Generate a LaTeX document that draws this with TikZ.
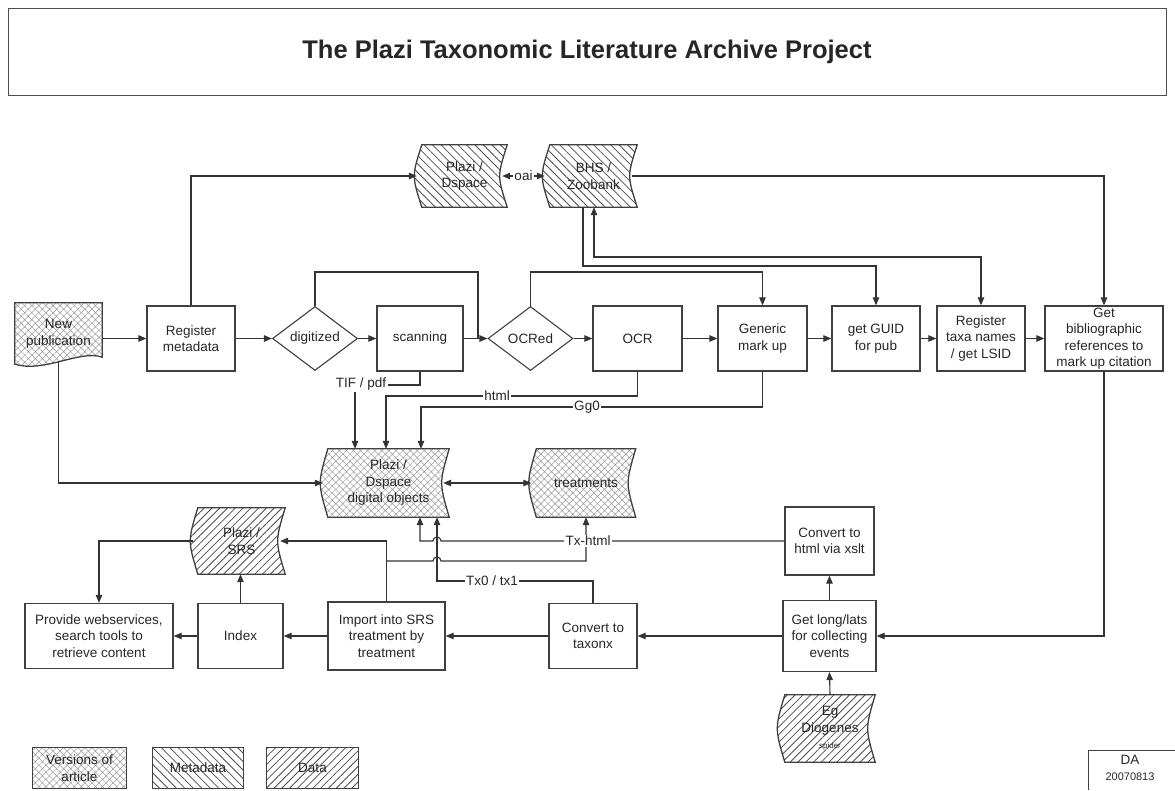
\documentclass[tikz,border=0pt]{standalone}
\usepackage{fontspec}
\setmainfont{Liberation Sans}
\usetikzlibrary{shapes.geometric,arrows.meta,patterns.meta,calc,backgrounds}
\newcommand\storedshape[2]{\path[#2] (#1.north west) .. controls ($(#1.north west)!.5!(#1.south west)+(-10pt,0)$) .. (#1.south west) -- (#1.south east) .. controls ($(#1.south east)!.5!(#1.north east)+(-10pt,0)$) .. (#1.north east) -- cycle;}
\begin{document}
\begin{tikzpicture}[x=1pt,y=-1pt,
  every node/.style={font=\fontsize{13.5pt}{16.5pt}\selectfont, text=black!85},
  box/.style={draw=black!75,line width=1.3pt,inner sep=0pt,align=center,minimum height=65pt},
  dia/.style={diamond,draw=black!75,line width=1.1pt,inner sep=0pt,minimum width=85pt,minimum height=64pt},
  ghost/.style={inner sep=0pt,align=center},
  conn/.style={draw=black!80,line width=1.1pt},
  arr/.style={conn,-{Triangle[length=8pt,width=6.5pt]}},
  arrr/.style={conn,{Triangle[length=8pt,width=6.5pt]}-{Triangle[length=8pt,width=6.5pt]}},
  lbl/.style={fill=white,inner sep=1.5pt},
  verpat/.style={draw=black!75,line width=1.3pt,pattern={Hatch[angle=45,distance=5pt,line width=0.5pt]},pattern color=black!40},
  metapat/.style={draw=black!75,line width=1.3pt,pattern={Lines[angle=-45,distance=6pt,line width=0.8pt]},pattern color=black!70},
  datapat/.style={draw=black!75,line width=1.3pt,pattern={Lines[angle=45,distance=5.5pt,line width=0.8pt]},pattern color=black!70}
]
\useasboundingbox (0,0) rectangle (1175,790);

% title
\node[draw=black!70,line width=1pt,minimum width=1158pt,minimum height=87pt,inner sep=0pt,
  font=\bfseries\fontsize{25.5pt}{29pt}\selectfont] (title) at (587,51.5) {The Plazi Taxonomic Literature Archive Project};

% main row
\node[ghost,minimum width=87pt,minimum height=62pt] (newpub) at (58.5,334) {New\\publication};
\node[box,minimum width=88pt] (regmeta) at (191,338.5) {Register\\metadata};
\node[dia] (digitized) at (315,338.5) {digitized};
\node[box,minimum width=86pt] (scanning) at (420,338.5) {scanning};
\node[dia] (ocred) at (530.5,338.5) {OCRed};
\node[box,minimum width=89pt] (ocr) at (637.5,338.5) {OCR};
\node[box,minimum width=89pt] (generic) at (762.5,338.5) {Generic\\mark up};
\node[box,minimum width=88pt] (guid) at (876,338.5) {get GUID\\for pub};
\node[box,minimum width=88pt] (regtaxa) at (981,338.5) {Register\\taxa names\\/ get LSID};
\node[box,minimum width=118pt] (getbib) at (1104,338.5) {Get\\bibliographic\\references to\\mark up citation};

% stores
\node[ghost,minimum width=85pt,minimum height=62pt] (dspace) at (464.5,176) {Plazi /\\Dspace};
\node[ghost,minimum width=87pt,minimum height=62pt] (bhs) at (593.5,176) {BHS /\\Zoobank};
\node[ghost,minimum width=121pt,minimum height=68pt] (digobj) at (388.5,483) {Plazi /\\Dspace\\digital objects};
\node[ghost,minimum width=99pt,minimum height=68pt] (treat) at (586,483) {treatments};
\node[ghost,minimum width=87pt,minimum height=66pt] (srs) at (241.5,541) {Plazi /\\SRS};
\node[ghost,minimum width=90pt,minimum height=67pt] (eg) at (830,728.5) {Eg\\Diogenes\\{\fontsize{8pt}{9pt}\selectfont spider}};

% lower boxes
\node[box,minimum width=89pt,minimum height=68pt] (html) at (829.5,541) {Convert to\\html via xslt};
\node[box,minimum width=148pt] (provide) at (99,636) {Provide webservices,\\search tools to\\retrieve content};
\node[box,minimum width=85pt] (index) at (240.5,636) {Index};
\node[box,minimum width=117pt,minimum height=68pt] (import) at (386.5,636) {Import into SRS\\treatment by\\treatment};
\node[box,minimum width=88pt] (taxonx) at (593,636) {Convert to\\taxonx};
\node[box,minimum width=93pt,minimum height=71pt] (longlat) at (829.5,636) {Get long/lats\\for collecting\\events};

% legend
\node[ghost,minimum width=93pt,minimum height=40pt] (legver) at (79.5,768) {Versions of\\article};
\node[ghost,minimum width=90pt,minimum height=40pt] (legmeta) at (198,768) {Metadata};
\node[ghost,minimum width=91pt,minimum height=40pt] (legdata) at (312.5,768) {Data};
\node[ghost] (da) at (1130,768) {DA\\{\fontsize{11pt}{12pt}\selectfont 20070813}};
\draw[draw=black!75,line width=1pt] (1088,790) |- (1176,750);

\begin{scope}[on background layer]
  \storedshape{dspace}{metapat}
  \storedshape{bhs}{metapat}
  \storedshape{digobj}{verpat}
  \storedshape{treat}{verpat}
  \storedshape{srs}{datapat}
  \storedshape{eg}{datapat}
  \path[verpat] (newpub.north west) -- (newpub.north east) -- ([yshift=8pt]newpub.south east)
     .. controls ($(newpub.south)+(22pt,16pt)$) and ($(newpub.south)+(-14pt,-8pt)$) .. ([yshift=1pt]newpub.south west) -- cycle;
  \path[verpat] (legver.north west) rectangle (legver.south east);
  \path[metapat] (legmeta.north west) rectangle (legmeta.south east);
  \path[datapat] (legdata.north west) rectangle (legdata.south east);
\end{scope}

% main row connectors
\draw[arr] (newpub.east |- regmeta.west) -- (regmeta.west);
\draw[arr] (regmeta.east) -- (digitized.west);
\draw[arr] (digitized.east) -- (scanning.west);
\draw[arr] (scanning.east) -- (ocred.west);
\draw[arr] (ocred.east) -- (ocr.west);
\draw[arr] (ocr.east) -- (generic.west);
\draw[arr] (generic.east) -- (guid.west);
\draw[arr] (guid.east) -- (regtaxa.west);
\draw[arr] (regtaxa.east) -- (getbib.west);
\coordinate (k1) at (478,272);
\draw[conn] (digitized.north) |- (k1) -- (k1 |- ocred.west);
\draw[arr] (ocred.north) |- (generic.north |- k1) -- (generic.north);

% top
\draw[arr] (regmeta.north) |- ([xshift=-5pt]dspace.west);
\draw[arrr] ([xshift=-5pt]dspace.east) -- node[lbl] (oai) {oai} ([xshift=-5pt]bhs.west);
\draw[arr] ([xshift=-5pt]bhs.east) -| (getbib.north);
\coordinate (k2) at (594,257);
\coordinate (k3) at (583,266);
\draw[arrr] (bhs.south -| k2) -- (k2) -| (regtaxa.north);
\draw[arr] (bhs.south -| k3) -- (k3) -| (guid.north);

% into digital objects
\coordinate (t1) at (355,385);
\draw[arr] (scanning.south) |- (t1) -- (t1 |- digobj.north);
\node[lbl] (tifl) at (361,384) {TIF / pdf};
\coordinate (t2) at (386,396);
\draw[arr] (ocr.south) |- (t2) -- (t2 |- digobj.north);
\node[lbl] (htmll) at (497,396) {html};
\coordinate (t3) at (421,407);
\draw[arr] (generic.south) |- (t3) -- (t3 |- digobj.north);
\node[lbl] (ggl) at (587,407) {Gg0};
\draw[arr] ([yshift=4pt]newpub.south) |- ([xshift=-5pt]digobj.west);
\draw[arrr] ([xshift=-6pt]digobj.east) -- ([xshift=-5pt]treat.west);

% Tx-html
\coordinate (t4) at (420,541);
\draw[arr] (html.west) -- (441,541) arc[start angle=0,end angle=180,radius=4pt] -- (t4) -- (t4 |- digobj.south);
\coordinate (t5) at (386.5,561);
\draw[arr] (t5) -- (433,561) arc[start angle=180,end angle=0,radius=4pt] -| (treat.south);
\node[lbl] (txhtml) at (588,541) {Tx-html};
\draw[arr] (import.north) |- ([xshift=-5pt]srs.east);
\coordinate (t6) at (437,581);
\draw[arr] (taxonx.north) |- (t6) -- (t6 |- digobj.south);
\node[lbl] (txl) at (492,581) {Tx0 / tx1};

% bottom row
\draw[arr] (longlat.north) -- (html.south);
\draw[arr] (longlat.west) -- (taxonx.east);
\draw[arr] (taxonx.west) -- (import.east);
\draw[arr] (import.west) -- (index.east);
\draw[arr] (index.west) -- (provide.east);
\draw[arr] (index.north) -- (index.north |- srs.south);
\draw[arr] ([xshift=-5pt]srs.west) -| (provide.north);
\draw[arr] (getbib.south) |- (longlat.east);
\draw[arr] (eg.north) -- (longlat.south);
\end{tikzpicture}
\end{document}
